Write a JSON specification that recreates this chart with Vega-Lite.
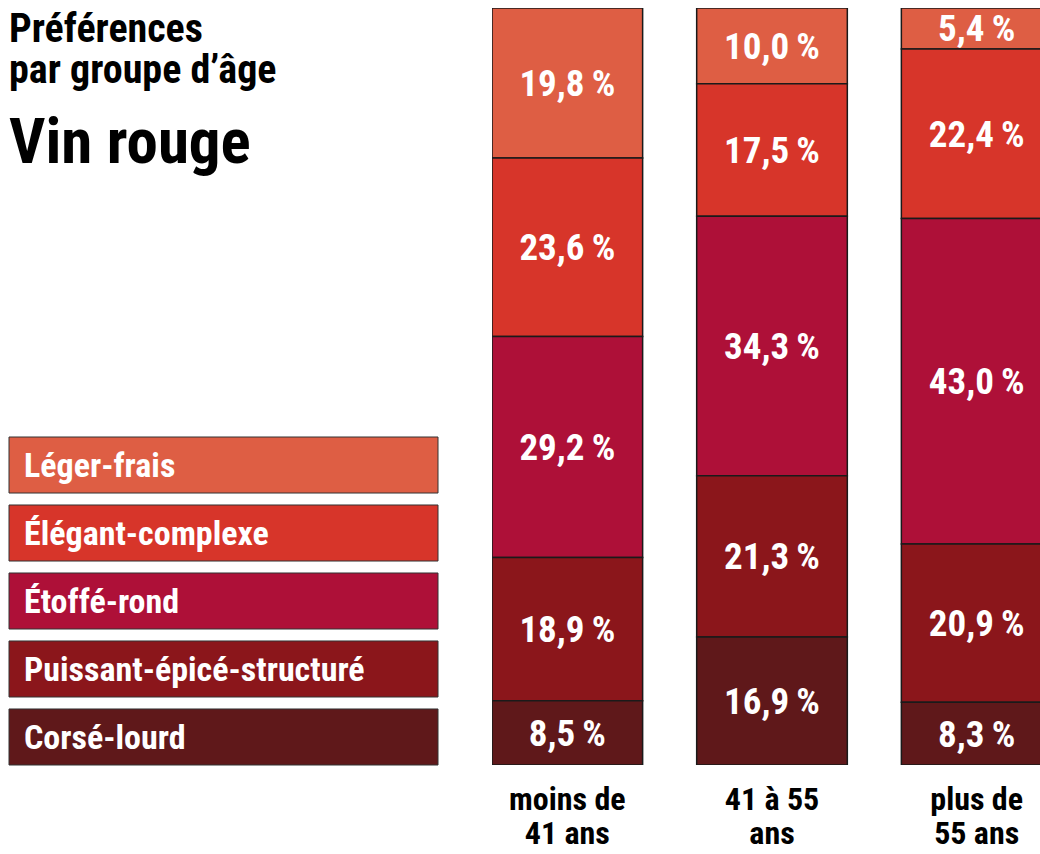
{
  "$schema": "https://vega.github.io/schema/vega-lite/v6.json",
  "background": "white",
  "padding": {"left": 8, "top": 8, "right": 0, "bottom": 0},
  "spacing": 53,
  "config": {
    "view": {"stroke": null},
    "font": "Roboto Condensed, DejaVu Sans Condensed, sans-serif",
    "locale": {"number": {"decimal": ",", "thousands": "\u00a0", "grouping": [3], "currency": ["", "\u00a0€"], "percent": "\u2009%"}}
  },
  "datasets": {
    "prefs": [
      {"g": "moins de 41 ans", "cat": "Léger-frais", "ord": 5, "v": 0.198},
      {"g": "moins de 41 ans", "cat": "Élégant-complexe", "ord": 4, "v": 0.236},
      {"g": "moins de 41 ans", "cat": "Étoffé-rond", "ord": 3, "v": 0.292},
      {"g": "moins de 41 ans", "cat": "Puissant-épicé-structuré", "ord": 2, "v": 0.189},
      {"g": "moins de 41 ans", "cat": "Corsé-lourd", "ord": 1, "v": 0.085},
      {"g": "41 à 55 ans", "cat": "Léger-frais", "ord": 5, "v": 0.100},
      {"g": "41 à 55 ans", "cat": "Élégant-complexe", "ord": 4, "v": 0.175},
      {"g": "41 à 55 ans", "cat": "Étoffé-rond", "ord": 3, "v": 0.343},
      {"g": "41 à 55 ans", "cat": "Puissant-épicé-structuré", "ord": 2, "v": 0.213},
      {"g": "41 à 55 ans", "cat": "Corsé-lourd", "ord": 1, "v": 0.169},
      {"g": "plus de 55 ans", "cat": "Léger-frais", "ord": 5, "v": 0.054},
      {"g": "plus de 55 ans", "cat": "Élégant-complexe", "ord": 4, "v": 0.224},
      {"g": "plus de 55 ans", "cat": "Étoffé-rond", "ord": 3, "v": 0.430},
      {"g": "plus de 55 ans", "cat": "Puissant-épicé-structuré", "ord": 2, "v": 0.209},
      {"g": "plus de 55 ans", "cat": "Corsé-lourd", "ord": 1, "v": 0.083}
    ],
    "cats": [
      {"cat": "Léger-frais"},
      {"cat": "Élégant-complexe"},
      {"cat": "Étoffé-rond"},
      {"cat": "Puissant-épicé-structuré"},
      {"cat": "Corsé-lourd"}
    ]
  },
  "hconcat": [
    {
      "width": 429,
      "height": 757,
      "title": {
        "text": ["Préférences", "par groupe d’âge"],
        "subtitle": "Vin rouge",
        "anchor": "start",
        "frame": "group",
        "fontSize": 40,
        "lineHeight": 41,
        "fontWeight": "bold",
        "color": "black",
        "subtitleFontSize": 63,
        "subtitleFontWeight": "bold",
        "subtitleColor": "black",
        "subtitleFont": "Roboto Condensed, DejaVu Sans Condensed, sans-serif",
        "subtitlePadding": 22,
        "offset": -168
      },
      "data": {"name": "cats"},
      "encoding": {
        "y": {"field": "cat", "type": "nominal", "sort": ["Léger-frais", "Élégant-complexe", "Étoffé-rond", "Puissant-épicé-structuré", "Corsé-lourd"], "scale": {"range": [429, 757], "paddingInner": 0.176, "paddingOuter": 0}, "axis": null}
      },
      "layer": [
        {
          "mark": {"type": "bar", "stroke": "#333333", "strokeWidth": 1},
          "encoding": {
            "x": {"datum": 0, "type": "quantitative", "scale": {"domain": [0, 1]}, "axis": null},
            "x2": {"datum": 1},
            "color": {"field": "cat", "type": "nominal", "scale": {"domain": ["Léger-frais", "Élégant-complexe", "Étoffé-rond", "Puissant-épicé-structuré", "Corsé-lourd"], "range": ["#DE5E44", "#D7352A", "#AE1038", "#8B161B", "#5F181A"]}, "legend": null}
          }
        },
        {
          "mark": {"type": "text", "align": "left", "baseline": "middle", "dx": 15, "dy": 2, "fontSize": 34, "fontWeight": "bold", "color": "white"},
          "encoding": {
            "x": {"datum": 0, "type": "quantitative"},
            "text": {"field": "cat"}
          }
        }
      ]
    },
    {
      "width": 549,
      "height": 757,
      "data": {"name": "prefs"},
      "transform": [
        {"stack": "v", "groupby": ["g"], "sort": [{"field": "ord", "order": "ascending"}], "as": ["v0", "v1"]}
      ],
      "encoding": {
        "x": {
          "field": "g", "type": "nominal",
          "sort": ["moins de 41 ans", "41 à 55 ans", "plus de 55 ans"],
          "scale": {"range": [0, 560], "paddingInner": 0.264, "paddingOuter": 0},
          "axis": {
            "title": null, "domain": false, "ticks": false, "labelAngle": 0,
            "labelFontSize": 32, "labelFontWeight": "bold", "labelColor": "black",
            "labelLineHeight": 34, "labelPadding": 19, "labelBaseline": "top",
            "labelExpr": "datum.value == 'moins de 41 ans' ? ['moins de', '41 ans'] : datum.value == '41 à 55 ans' ? ['41 à 55', 'ans'] : ['plus de', '55 ans']"
          }
        }
      },
      "layer": [
        {
          "mark": {"type": "bar", "stroke": "#1a1a1a", "strokeWidth": 1.5, "clip": true},
          "encoding": {
            "y": {"field": "v0", "type": "quantitative", "scale": {"domain": [0, 1], "nice": false}, "axis": null},
            "y2": {"field": "v1"},
            "color": {"field": "cat", "type": "nominal", "scale": {"domain": ["Léger-frais", "Élégant-complexe", "Étoffé-rond", "Puissant-épicé-structuré", "Corsé-lourd"], "range": ["#DE5E44", "#D7352A", "#AE1038", "#8B161B", "#5F181A"]}, "legend": null}
          }
        },
        {
          "transform": [{"fold": ["v0", "v1"], "as": ["edge", "pos"]}],
          "mark": {"type": "text", "align": "center", "baseline": "middle", "dy": 2, "fontSize": 37, "fontWeight": "bold", "color": "white"},
          "encoding": {
            "y": {"aggregate": "mean", "field": "pos", "type": "quantitative"},
            "detail": {"field": "cat", "type": "nominal"},
            "text": {"aggregate": "max", "field": "v", "type": "quantitative", "format": ".1%"}
          }
        }
      ]
    }
  ]
}
